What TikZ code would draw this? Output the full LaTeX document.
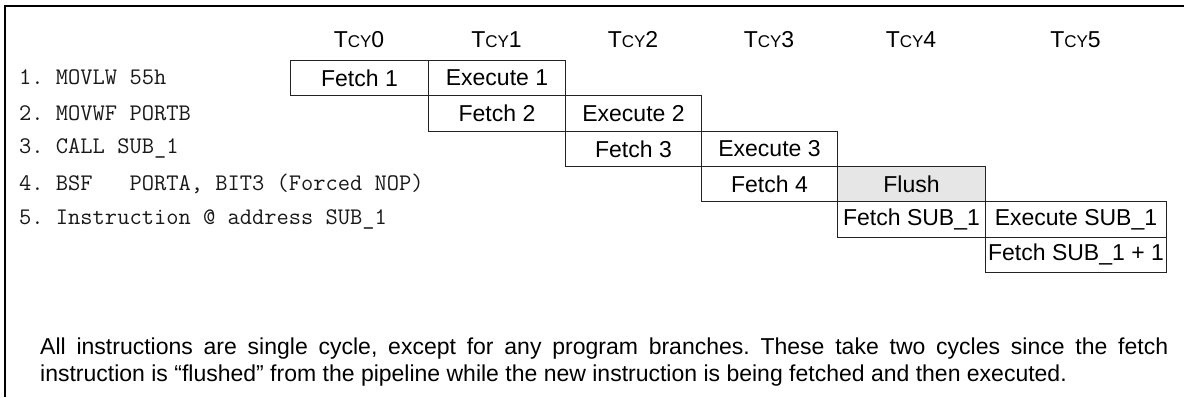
\documentclass[tikz,border=0pt]{standalone}
\usepackage{fontspec}
\setmainfont{Liberation Sans}
\definecolor{flushgray}{RGB}{230,230,230}
\definecolor{boxline}{RGB}{35,35,35}
\newcommand\tcylabel[1]{T{\fontsize{17}{17}\selectfont CY}#1}
\frenchspacing
\begin{document}
\begin{tikzpicture}[x=1pt,y=-1pt,
  cell/.style={draw=boxline, line width=1pt, minimum height=35.33pt, inner sep=0pt,
    anchor=north west, font=\fontsize{23}{26}\selectfont},
  w0/.style={minimum width=138pt}, w1/.style={minimum width=137pt},
  w2/.style={minimum width=136pt}, w3/.style={minimum width=136pt},
  w4/.style={minimum width=148pt}, w5/.style={minimum width=181pt},
  hdr/.style={inner sep=0pt, font=\fontsize{23}{26}\selectfont},
  instr/.style={anchor=west, inner sep=0pt, text=black!90, font=\ttfamily\fontsize{23.8}{25}\selectfont},
  para/.style={anchor=north west, inner sep=0pt, align=left, font=\fontsize{23}{27}\selectfont}]
\useasboundingbox (0,0) rectangle (1184,397);
% frame
\draw[line width=2.5pt] (5,397) -- (5,6) -- (1184,6);
% headers
\node[hdr] (t0) at (359,40) {\tcylabel{0}};
\node[hdr] (t1) at (496.5,40) {\tcylabel{1}};
\node[hdr] (t2) at (633,40) {\tcylabel{2}};
\node[hdr] (t3) at (769,40) {\tcylabel{3}};
\node[hdr] (t4) at (911,40) {\tcylabel{4}};
\node[hdr] (t5) at (1075.5,40) {\tcylabel{5}};
% instructions
\node[instr] (i1) at (19,77.7) {1. MOVLW 55h};
\node[instr] (i2) at (19,113) {2. MOVWF PORTB};
\node[instr] (i3) at (19,148.4) {3. CALL SUB\_1};
\node[instr] (i4) at (19,183.7) {4. BSF\ \ \ PORTA, BIT3 (Forced NOP)};
\node[instr] (i5) at (19,219) {5. Instruction @ address SUB\_1};
% pipeline cells
\node[cell,w0] (f1) at (290,60) {Fetch 1};
\node[cell,w1] (e1) at (428,60) {Execute 1};
\node[cell,w1] (f2) at (428,95.33) {Fetch 2};
\node[cell,w2] (e2) at (565,95.33) {Execute 2};
\node[cell,w2] (f3) at (565,130.67) {Fetch 3};
\node[cell,w3] (e3) at (701,130.67) {Execute 3};
\node[cell,w3] (f4) at (701,166) {Fetch 4};
\node[cell,w4,fill=flushgray] (fl) at (837,166) {Flush};
\node[cell,w4] (fs) at (837,201.33) {Fetch SUB\_1};
\node[cell,w5] (es) at (985,201.33) {Execute SUB\_1};
\node[cell,w5] (fs1) at (985,236.67) {Fetch SUB\_1 + 1};
% note
\node[para] (note) at (40,338) {\makebox[1128pt][s]{All instructions are single cycle, except for any program branches. These take two cycles since the fetch}\\instruction is “flushed” from the pipeline while the new instruction is being fetched and then executed.};
\end{tikzpicture}
\end{document}
